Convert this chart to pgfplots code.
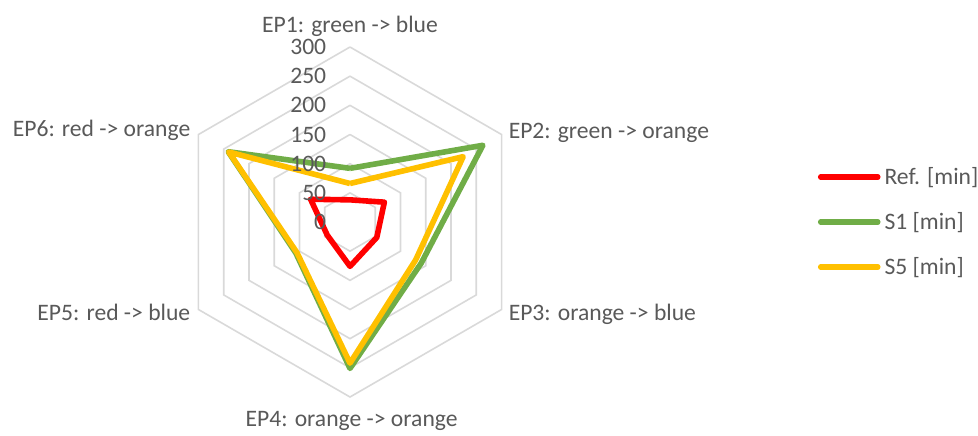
\documentclass[border=0pt]{standalone}
\usepackage{pgfplots}
\pgfplotsset{compat=1.18}
\usepgfplotslibrary{polar}
\usetikzlibrary{calc}
\usepackage{fontspec}
\setmainfont{Carlito}
\definecolor{txt}{HTML}{595959}
\definecolor{gridc}{HTML}{D9D9D9}
\definecolor{cred}{HTML}{FF0000}
\definecolor{cgreen}{HTML}{70AD47}
\definecolor{cyellow}{HTML}{FFC000}
\begin{document}
\begin{tikzpicture}[font=\fontsize{11.8}{14}\selectfont]
\begin{polaraxis}[
  scale only axis, width=175pt, height=175pt,
  ymin=0, ymax=300, hide axis, clip=false,
  legend style={draw=none, fill=none, inner sep=0pt, outer sep=0pt,
    at={(axis description cs:1.837,0.5)}, anchor=west,
    row sep=11pt, text=txt,
    nodes={inner xsep=2pt, inner ysep=0pt, text height=9.5pt, text depth=2pt}},
  legend cell align=left,
  legend image code/.code={\draw[#1, line cap=round] (0pt,0pt) -- (28.5pt,0pt);},
  grid line/.style={gridc, line width=0.8pt, forget plot},
  series/.style={line width=2.8pt, line join=round},
]
\addplot[grid line] coordinates {(90,50) (30,50) (-30,50) (-90,50) (-150,50) (150,50) (90,50)};
\addplot[grid line] coordinates {(90,100) (30,100) (-30,100) (-90,100) (-150,100) (150,100) (90,100)};
\addplot[grid line] coordinates {(90,150) (30,150) (-30,150) (-90,150) (-150,150) (150,150) (90,150)};
\addplot[grid line] coordinates {(90,200) (30,200) (-30,200) (-90,200) (-150,200) (150,200) (90,200)};
\addplot[grid line] coordinates {(90,250) (30,250) (-30,250) (-90,250) (-150,250) (150,250) (90,250)};
\addplot[grid line] coordinates {(90,300) (30,300) (-30,300) (-90,300) (-150,300) (150,300) (90,300)};
% Ref. [min]
\addplot[series, cred] coordinates {(90,38) (30,68) (-30,53) (-90,76) (-150,45) (150,78) (90,38)};
\addlegendentry{Ref. [min]}
% S1 [min]
\addplot[series, cgreen] coordinates {(90,92) (30,263) (-30,141) (-90,251) (-150,107) (150,241) (90,92)};
\addlegendentry{S1 [min]}
% S5 [min]
\addplot[series, cyellow] coordinates {(90,66) (30,224) (-30,130) (-90,242) (-150,105) (150,240) (90,66)};
\addlegendentry{S5 [min]}
% radial tick labels
\foreach \r in {0,50,100,150,200,250,300}{
  \edef\tmp{\noexpand\node[anchor=east, inner sep=0pt, text=txt, xshift=-11.7pt] at (axis cs:90,\r) {\r};}\tmp
}
% category labels
\node[anchor=base, inner sep=0pt, text=txt, yshift=7.5pt] at (axis cs:90,300) {EP1: green -> blue};
\node[anchor=base west, inner sep=0pt, text=txt, xshift=3.4pt, yshift=-1.9pt] at (axis cs:30,300) {EP2: green -> orange};
\node[anchor=base west, inner sep=0pt, text=txt, xshift=3.4pt, yshift=-5.25pt] at (axis cs:-30,300) {EP3: orange -> blue};
\node[anchor=base, inner sep=0pt, text=txt, xshift=0.8pt, yshift=-14.85pt] at (axis cs:-90,300) {EP4: orange -> orange};
\node[anchor=base east, inner sep=0pt, text=txt, xshift=-3.9pt, yshift=-5.25pt] at (axis cs:-150,300) {EP5: red -> blue};
\node[anchor=base east, inner sep=0pt, text=txt, xshift=-3.9pt, yshift=-1.1pt] at (axis cs:150,300) {EP6: red -> orange};
\coordinate (C) at (axis cs:0,0);
\end{polaraxis}
\pgfresetboundingbox
\path[use as bounding box] ($(C)+(-175pt,-106.5pt)$) rectangle ($(C)+(314pt,111pt)$);
\end{tikzpicture}
\end{document}
